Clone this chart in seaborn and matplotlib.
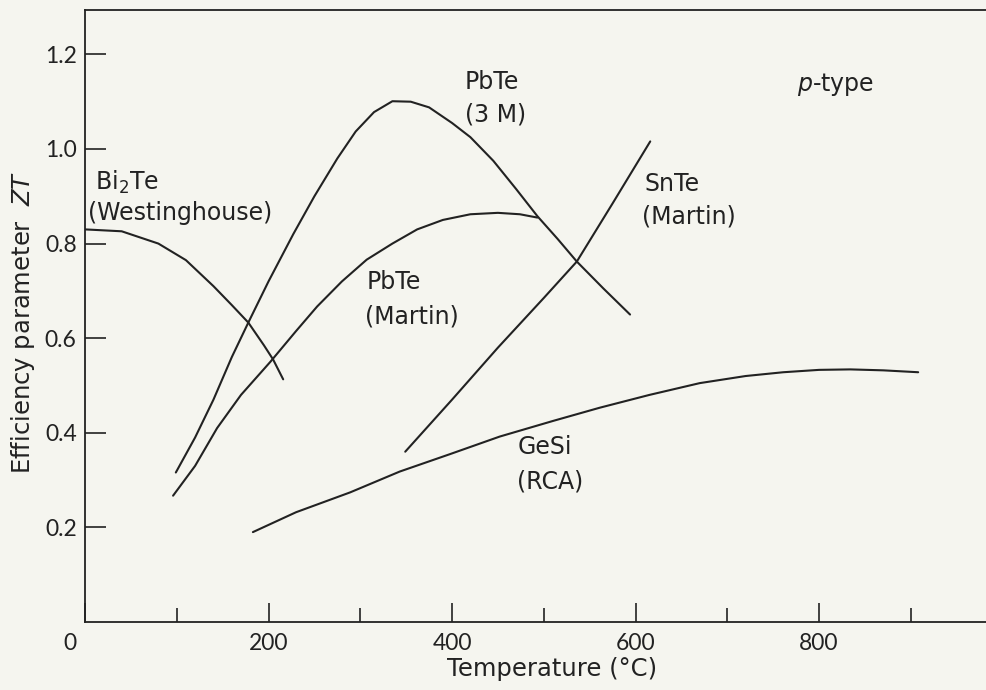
import matplotlib
matplotlib.use('Agg')
import matplotlib.pyplot as plt
import matplotlib.transforms as mtransforms
import seaborn as sns
import pandas as pd

# curves: temperature (C) and ZT
bi2te_t = [0, 40, 80, 110, 140, 160, 178, 195, 205, 216]
bi2te_zt = [0.83, 0.826, 0.80, 0.765, 0.71, 0.67, 0.633, 0.585, 0.555, 0.513]

pbte3m_t = [99, 120, 140, 160, 178, 200, 227, 250, 275, 295, 315, 335, 355, 375,
            400, 420, 445, 470, 493, 515, 536, 565, 594]
pbte3m_zt = [0.316, 0.39, 0.47, 0.56, 0.633, 0.72, 0.82, 0.90, 0.98, 1.037, 1.078, 1.101,
             1.100, 1.088, 1.055, 1.025, 0.975, 0.915, 0.858, 0.81, 0.762, 0.705, 0.65]

pbtem_t = [96, 120, 144, 170, 202, 230, 253, 280, 307, 335, 362, 390, 420, 450, 474, 493]
pbtem_zt = [0.267, 0.33, 0.41, 0.48, 0.55, 0.615, 0.667, 0.72, 0.766, 0.80, 0.83, 0.85,
            0.862, 0.865, 0.862, 0.855]

snte_t = [349, 400, 450, 500, 536, 575, 616]
snte_zt = [0.36, 0.47, 0.58, 0.685, 0.762, 0.885, 1.016]

gesi_t = [183, 230, 289, 343, 398, 452, 510, 561, 615, 670, 720, 761, 800, 834, 870, 908]
gesi_zt = [0.19, 0.232, 0.274, 0.318, 0.355, 0.392, 0.425, 0.453, 0.48, 0.505, 0.52,
           0.528, 0.533, 0.534, 0.532, 0.528]

xtick_vals = [0, 200, 400, 600, 800]
xtick_labels = ['0', '200', '400', '600', '800']
ytick_vals = [0.2, 0.4, 0.6, 0.8, 1.0, 1.2]
ytick_labels = ['0.2', '0.4', '0.6', '0.8', '1.0', '1.2']

frames = []
for name, t, z in [('Bi2Te', bi2te_t, bi2te_zt), ('PbTe 3M', pbte3m_t, pbte3m_zt),
                   ('PbTe Martin', pbtem_t, pbtem_zt), ('SnTe', snte_t, snte_zt),
                   ('GeSi', gesi_t, gesi_zt)]:
    frames.append(pd.DataFrame({'series': name, 'T': t, 'ZT': z}))
df = pd.concat(frames, ignore_index=True)

sns.set_style('ticks')
bg = '#f5f5ef'
ink = '#222222'
plt.rcParams['font.family'] = ['DejaVu Sans']
plt.rcParams['mathtext.fontset'] = 'dejavusans'

fig = plt.figure(figsize=(9.87, 6.9), dpi=100, facecolor=bg)
ax = fig.add_axes([0.0861, 0.0986, 0.9139, 0.887])
ax.set_facecolor(bg)

sns.lineplot(data=df, x='T', y='ZT', units='series', estimator=None, sort=False,
             color=ink, linewidth=1.5, ax=ax)

ax.set_xlim(0, 983)
ax.set_ylim(0, 1.294)
ax.spines['right'].set_visible(False)
for s in ['left', 'bottom', 'top']:
    ax.spines[s].set_color(ink)
    ax.spines[s].set_linewidth(1.3)

ax.set_xticks(xtick_vals)
ax.set_xticklabels(xtick_labels, family=['Lato', 'DejaVu Sans'])
ax.set_xticks([100, 300, 500, 700, 900], minor=True)
ax.set_yticks(ytick_vals)
ax.set_yticklabels(ytick_labels, family=['Lato', 'DejaVu Sans'])
ax.tick_params(axis='x', which='major', direction='in', length=14, width=1.2,
               color=ink, labelsize=16.5, labelcolor=ink, pad=8)
ax.tick_params(axis='x', which='minor', direction='in', length=10, width=1.2, color=ink)
ax.tick_params(axis='y', direction='in', length=15, width=1.2, color=ink,
               labelsize=16.5, labelcolor=ink, pad=6)
# the "0" sits left of the corner
zero = ax.get_xticklabels()[0]
zero.set_transform(zero.get_transform() + mtransforms.ScaledTranslation(-0.15, 0, fig.dpi_scale_trans))

ax.set_xlabel('Temperature (°C)', fontsize=17.5, color=ink)
ax.xaxis.set_label_coords(0.518, -0.058)
ax.set_ylabel('Efficiency parameter  $ZT$', fontsize=17.5, color=ink)
ax.yaxis.set_label_coords(-0.053, 0.49)

lab = dict(fontsize=17, color=ink, ha='left', va='center')
ax.text(11, 0.93, 'Bi$_2$Te', **lab)
ax.text(3, 0.865, '(Westinghouse)', **lab)
ax.text(414, 1.142, 'PbTe', **lab)
ax.text(414, 1.073, '(3 M)', **lab)
ax.text(307, 0.718, 'PbTe', **lab)
ax.text(305, 0.645, '(Martin)', **lab)
ax.text(610, 0.926, 'SnTe', **lab)
ax.text(607, 0.858, '(Martin)', **lab)
ax.text(471, 0.369, 'GeSi', **lab)
ax.text(471, 0.297, '(RCA)', **lab)
ax.text(776, 1.137, '$\\it{p}$-type', **lab)

fig.savefig('out.png', dpi=100, facecolor=bg)
